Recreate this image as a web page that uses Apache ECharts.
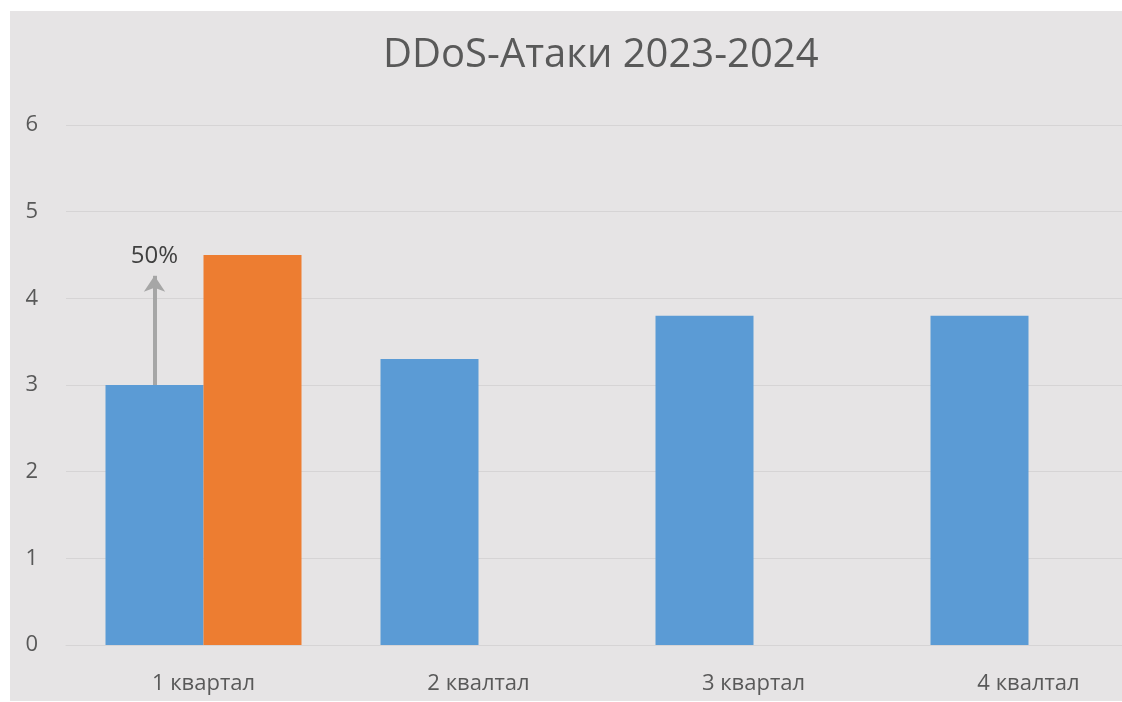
<!DOCTYPE html>
<html>
<head>
<meta charset="utf-8">
<script src="https://cdn.jsdelivr.net/npm/echarts@6/dist/echarts.min.js"></script>
<style>
  html, body { margin: 0; padding: 0; background: #ffffff; overflow: hidden; }
  #frame { position: absolute; left: 10px; top: 11px; width: 1112px; height: 690px; overflow: hidden; background: #e6e4e5; }
  /* the original picture is cut off on the right, so the chart is wider than the frame */
  #chart { position: absolute; left: 0; top: 0; width: 1200px; height: 690px; }
</style>
</head>
<body>
<div id="frame"><div id="chart"></div></div>
<script>
// quarters and values
const quarters = ['1 квартал', '2 квалтал', '3 квартал', '4 квалтал'];
const attacks2023 = [3, 3.3, 3.8, 3.8];
const attacks2024 = [4.5, null, null, null];
// growth arrow, first quarter
const growthFrom = 3;
const growthTo = 4.26;
const growthLabel = '50%';

const textColor = '#595959';
const chart = echarts.init(document.getElementById('chart'));

const option = {
    backgroundColor: '#e6e4e5',
    animation: false,
    title: {
        text: 'DDoS-Атаки 2023-2024',
        left: 368, top: 20,
        textStyle: { fontFamily: 'Open Sans', fontSize: 40, fontWeight: 'normal', color: textColor }
    },
    grid: { left: 56, top: 114, bottom: 56, width: 1100, containLabel: false },
    xAxis: {
        type: 'category',
        data: quarters,
        axisLine: { show: true, lineStyle: { color: '#d6d4d5', width: 1 } },
        axisTick: { show: false },
        axisLabel: { margin: 28, fontFamily: 'Open Sans', fontSize: 22, color: textColor }
    },
    yAxis: {
        type: 'value',
        min: 0, max: 6, interval: 1,
        axisLine: { show: false },
        axisTick: { show: false },
        splitLine: { lineStyle: { color: '#d6d4d5', width: 1 } },
        axisLabel: { margin: 28, fontFamily: 'Open Sans', fontSize: 22, color: textColor }
    },
    series: [
        {
            name: '2023', type: 'bar', data: attacks2023,
            barWidth: 98, barGap: '0%',
            itemStyle: { color: '#5b9bd5' },
            markLine: {
                silent: true,
                symbol: ['none', 'arrow'],
                symbolSize: [16, 16],
                lineStyle: { color: '#a6a6a6', width: 4, type: 'solid' },
                label: {
                    show: true, position: 'end', distance: 8,
                    formatter: growthLabel,
                    fontFamily: 'Open Sans', fontSize: 24, color: '#404040'
                },
                data: [[{ coord: [0, growthFrom] }, { coord: [0, growthTo] }]]
            }
        },
        {
            name: '2024', type: 'bar', data: attacks2024,
            barWidth: 98, barGap: '0%',
            itemStyle: { color: '#ed7d31' }
        }
    ]
};
chart.setOption(option);
</script>
</body>
</html>
